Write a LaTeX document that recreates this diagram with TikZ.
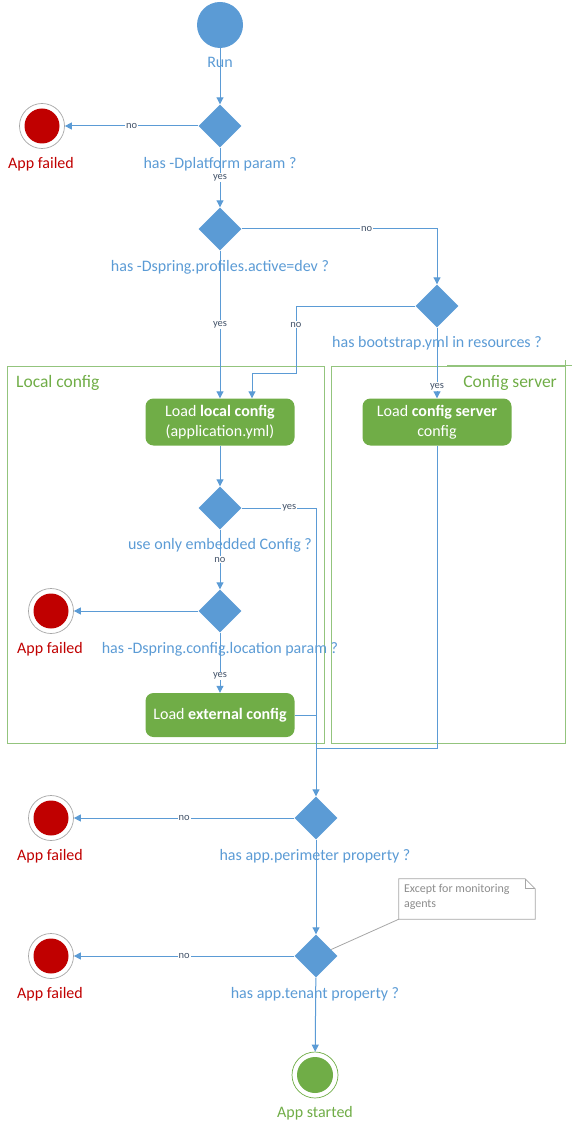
\documentclass[tikz,border=0pt]{standalone}
\usepackage{fontspec}
\setmainfont{Carlito}
\usetikzlibrary{shapes.geometric,arrows.meta,calc}
\definecolor{cblue}{HTML}{5B9BD5}
\definecolor{cred}{HTML}{C00000}
\definecolor{cgreen}{HTML}{70AD47}
\definecolor{clane}{HTML}{93C47D}
\definecolor{cgray}{HTML}{A6A6A6}
\definecolor{cnote}{HTML}{8C8C8C}
\definecolor{csmall}{HTML}{44546A}
\begin{document}
\begin{tikzpicture}[x=1pt,y=-1pt,
  dec/.style={diamond, fill=cblue, minimum width=43pt, minimum height=43pt, inner sep=0pt},
  startc/.style={circle, fill=cblue, minimum size=46pt, inner sep=0pt},
  fail/.style={circle, draw=cgray, line width=0.7pt, fill=white, minimum size=45pt, inner sep=0pt,
     path picture={\fill[cred] (path picture bounding box.center) circle (17.5pt);}},
  okend/.style={circle, draw=cgreen, line width=0.7pt, fill=white, minimum size=46pt, inner sep=0pt,
     path picture={\fill[cgreen] (path picture bounding box.center) circle (18pt);}},
  lbl/.style={text=cblue, font=\fontsize{16}{18}\selectfont, inner sep=1pt},
  faillbl/.style={text=cred, font=\fontsize{16}{18}\selectfont, inner sep=1pt},
  oklbl/.style={text=cgreen, font=\fontsize{16}{18}\selectfont, inner sep=1pt},
  small/.style={text=csmall, font=\fontsize{10.5}{12}\selectfont, fill=white, inner sep=1pt},
  flow/.style={draw=cblue, line width=1pt, -{Triangle[width=7pt,length=7pt]}},
  plain/.style={draw=cblue, line width=1pt},
  task/.style={rounded corners=8pt, fill=cgreen, text=white, minimum width=149pt, minimum height=47pt,
     align=center, font=\fontsize{16}{20}\selectfont, inner sep=2pt},
  lane/.style={draw=clane, line width=0.9pt},
  lanelbl/.style={text=cgreen, font=\fontsize{17.5}{20}\selectfont, inner sep=1pt},
  notebox/.style={minimum width=136pt, minimum height=40pt, inner sep=0pt},
  noteline/.style={draw=cgray, line width=0.8pt},
  notetxt/.style={text=cnote, font=\fontsize{12}{15}\selectfont, align=left, inner sep=0pt}
]
\useasboundingbox (0,0) rectangle (572,1131);

% swimlanes
\draw[lane] (7,366) rectangle (324,743);
\draw[lane] (331,366) rectangle (565,743);
\draw[lane] (447,365) -- (572,365);
\draw[lane] (565,360) -- (565,366);
\node[lanelbl, anchor=west] (lanelocal) at (15,383) {Local config};
\node[lanelbl, anchor=east] (laneserver) at (558,383) {Config server};

% nodes
\node[startc] (run) at (220,25) {};
\node[lbl] (runl) at (220,62) {Run};

\node[dec] (d1) at (220,126) {};
\node[lbl] (d1l) at (220,164) {has -Dplatform param ?};
\node[fail] (f1) at (42,126) {};
\node[faillbl] (f1l) at (41,164) {App failed};

\node[dec] (d2) at (220,229) {};
\node[lbl] (d2l) at (220,267) {has -Dspring.profiles.active=dev ?};

\node[dec] (d3) at (437,306) {};
\node[lbl] (d3l) at (437,343) {has bootstrap.yml in resources ?};

\node[task] (t1) at (220,422) {Load \textbf{local config}\\(application.yml)};
\node[task] (t2) at (437,422) {Load \textbf{config server}\\config};

\node[dec] (d4) at (220,508) {};
\node[lbl] (d4l) at (220,545) {use only embedded Config ?};

\node[dec] (d5) at (220,611) {};
\node[lbl] (d5l) at (220,649) {has -Dspring.config.location param ?};
\node[fail] (f2) at (51,611) {};
\node[faillbl] (f2l) at (50,649) {App failed};

\node[task, minimum height=44pt] (t3) at (220,715) {Load \textbf{external config}};

\node[dec] (d6) at (316,818) {};
\node[lbl] (d6l) at (315,856) {has app.perimeter property ?};
\node[fail] (f3) at (51,818) {};
\node[faillbl] (f3l) at (50,856) {App failed};

\node[dec] (d7) at (316,956) {};
\node[lbl] (d7l) at (315,994) {has app.tenant property ?};
\node[fail] (f4) at (51,956) {};
\node[faillbl] (f4l) at (50,994) {App failed};

\node[okend] (fin) at (315,1075) {};
\node[oklbl] (finl) at (315,1113) {App started};

% note
\node[notebox] (note) at (467,899) {};
\draw[noteline] (note.south west) -- (note.north west) -- ([xshift=-10pt]note.north east)
  -- ([yshift=-10pt]note.north east) -- (note.south east) -- cycle;
\draw[noteline] ([xshift=-10pt]note.north east) |- ([yshift=-10pt]note.north east);
\node[notetxt, anchor=north west] (notet) at ([xshift=5pt,yshift=-5pt]note.north west) {Except for monitoring\\agents};
\draw[noteline] (note.south west) -- ($(d7.east)!0.3!(d7.north)$);

% coordinates
\coordinate (b1) at (296,373);
\coordinate (b2) at (252,373);
\coordinate (j2) at (316,748);

% connectors
\draw[flow] (run) -- (d1);
\draw[flow] (d1) -- node[small]{no} (f1);
\draw[flow] (d1) -- node[small]{yes} (d2);
\draw[flow] (d2.east) -| node[small, pos=0.32]{no} (d3.north);
\draw[flow] (d2) -- node[small]{yes} (t1);
\draw[flow] (d3.west) -| node[small, pos=0.64]{no} (b1) -- (b2) -- (b2 |- t1.north);
\draw[flow] (d3) -- node[small, pos=0.83]{yes} (t2);
\draw[flow] (t1) -- (d4);
\draw[flow] (d4.east) -| node[small, pos=0.32]{yes} (d6.north);
\draw[flow] (d4) -- node[small]{no} (d5);
\draw[flow] (d5) -- (f2);
\draw[flow] (d5) -- node[small, pos=0.72]{yes} (t3);
\draw[plain] (t3.east) -- (t3.east -| d6.north);
\draw[plain] (t2.south) |- (j2);
\draw[flow] (d6) -- node[small]{no} (f3);
\draw[flow] (d6) -- (d7);
\draw[flow] (d7) -- node[small]{no} (f4);
\draw[flow] (d7) -- (fin);
\end{tikzpicture}
\end{document}
